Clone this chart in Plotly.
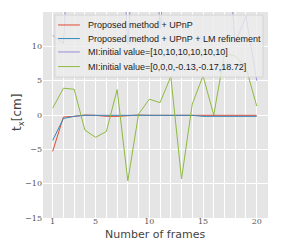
import plotly.graph_objects as go

frames = list(range(1, 21))
upnp = [-5.3, -0.3, -0.2, 0.0, -0.05, -0.2, -0.2, -0.05, 0.0, -0.05, -0.05, -0.05, -0.05, -0.05, -0.05, -0.1, -0.1, -0.1, -0.05, -0.05]
upnp_lm = [-3.7, -0.5, -0.2, -0.05, -0.05, -0.05, -0.05, -0.05, -0.05, -0.05, -0.05, -0.05, -0.05, -0.05, -0.2, -0.2, -0.2, -0.2, -0.15, -0.2]
mi_10 = [11.6, 10.4, 40.0, 35.0, 45.0, 30.0, 40.0, 10.3, 35.0, 40.0, 12.5, 30.0, 35.0, 40.0, 30.0, 25.0, 30.0, 10.5, 14.4, 5.0]
mi_0 = [1.0, 3.9, 3.75, -2.2, -3.25, -2.4, 3.7, -9.6, 0.15, 2.3, 1.8, 5.6, -9.3, 1.6, 5.7, 0.0, 8.9, 8.6, 6.9, 1.3]

names = ["Proposed method + UPnP",
         "Proposed method + UPnP + LM refinement",
         "MI:initial value=[10,10,10,10,10,10]",
         "MI:initial value=[0,0,0,-0.13,-0.17,18.72]"]
colors = ["#E24A33", "#348ABD", "#988ED5", "#8EBA42"]
series = [upnp, upnp_lm, mi_10, mi_0]

fig = go.Figure()
for n, c, s in zip(names, colors, series):
    fig.add_trace(go.Scatter(x=frames, y=s, name=n, mode="lines",
                             line=dict(color=c, width=1), showlegend=False))

# manual legend (matplotlib-like compact spacing)
shapes = [dict(type="rect", xref="paper", yref="paper", x0=0.053, x1=0.978, y0=0.684, y1=0.985,
               fillcolor="rgba(236,236,236,0.82)", line=dict(color="#d6d6d6", width=1), layer="above")]
annotations = []
row_y = [0.937, 0.871, 0.806, 0.735]
for n, c, yy in zip(names, colors, row_y):
    shapes.append(dict(type="line", xref="paper", yref="paper", x0=0.067, x1=0.164, y0=yy, y1=yy,
                       line=dict(color=c, width=1), layer="above"))
    annotations.append(dict(text=n, xref="paper", yref="paper", x=0.191, y=yy, xanchor="left",
                            yanchor="middle", showarrow=False,
                            font=dict(family="Liberation Sans", size=9, color="#222")))
annotations.append(dict(text="Number of frames", xref="paper", yref="paper", x=0.498, y=-0.078,
                        xanchor="center", yanchor="middle", showarrow=False,
                        font=dict(family="DejaVu Sans", size=11, color="#444")))
annotations.append(dict(text="t<sub>x</sub>[cm]", xref="paper", yref="paper", x=-0.111, y=0.51,
                        xanchor="center", yanchor="middle", showarrow=False, textangle=-90,
                        font=dict(family="DejaVu Sans", size=12, color="#444")))

# the page body adds an 8px offset, so the figure is 8px smaller and margins compensate
fig.update_layout(
    width=275, height=234,
    margin=dict(l=35, r=15, t=4, b=24, autoexpand=False),
    paper_bgcolor="white", plot_bgcolor="#E5E5E5",
    shapes=shapes, annotations=annotations,
    xaxis=dict(range=[0.1, 21.05], tickvals=[1, 5, 10, 15, 20],
               showgrid=True, gridcolor="white", gridwidth=1,
               minor=dict(tick0=1, dtick=1, showgrid=True, gridcolor="white", gridwidth=0.8),
               zeroline=False, ticks="", ticklen=0, automargin=False, ticklabelstandoff=-3,
               tickfont=dict(family="DejaVu Serif", size=8, color="#555")),
    yaxis=dict(range=[-15, 15], tickvals=[-15, -10, -5, 0, 5, 10, 15],
               ticktext=["\u221215", "\u221210", "\u22125", "0", "5", "10", "15"],
               showgrid=True, gridcolor="white", gridwidth=1, zeroline=False, automargin=False,
               ticks="", tickfont=dict(family="DejaVu Serif", size=8, color="#555")),
)
fig.write_html("out.html")
